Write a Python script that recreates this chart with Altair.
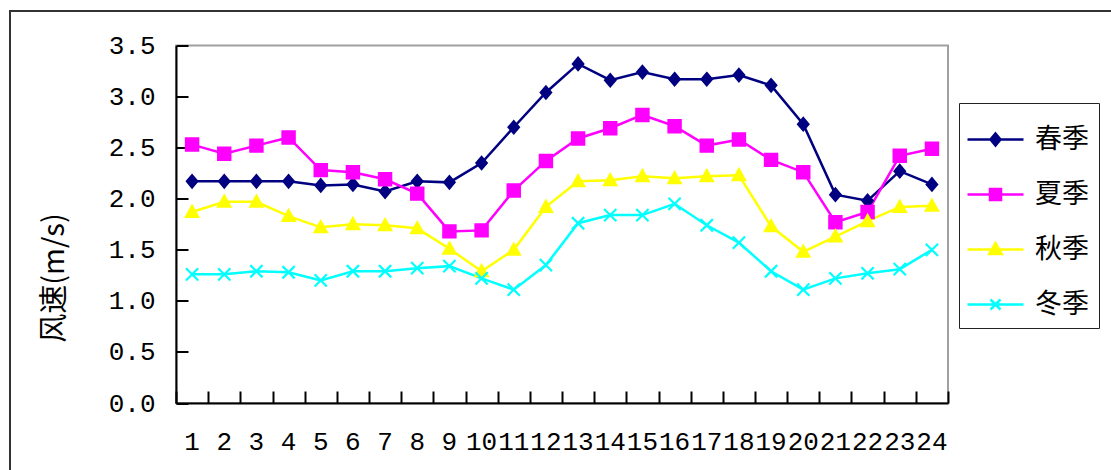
import altair as alt
import pandas as pd

# Hour of day (x categories)
hours = list(range(1, 25))
seasons = ["春季", "夏季", "秋季", "冬季"]

# Mean wind speed (m/s) for each hour, by season
spring = [2.17, 2.17, 2.17, 2.17, 2.13, 2.14, 2.07, 2.17, 2.16, 2.35, 2.70, 3.04,
          3.32, 3.16, 3.24, 3.17, 3.17, 3.21, 3.11, 2.73, 2.04, 1.98, 2.27, 2.14]
summer = [2.53, 2.44, 2.52, 2.60, 2.28, 2.26, 2.19, 2.05, 1.68, 1.69, 2.08, 2.37,
          2.59, 2.69, 2.82, 2.71, 2.52, 2.58, 2.38, 2.26, 1.77, 1.87, 2.42, 2.49]
autumn = [1.87, 1.97, 1.97, 1.83, 1.72, 1.75, 1.74, 1.71, 1.51, 1.29, 1.50, 1.92,
          2.17, 2.18, 2.22, 2.20, 2.22, 2.23, 1.73, 1.48, 1.63, 1.78, 1.92, 1.93]
winter = [1.26, 1.26, 1.29, 1.28, 1.20, 1.29, 1.29, 1.32, 1.34, 1.22, 1.11, 1.35,
          1.76, 1.84, 1.84, 1.95, 1.74, 1.57, 1.29, 1.11, 1.22, 1.27, 1.31, 1.50]

y_ticks = [0.0, 0.5, 1.0, 1.5, 2.0, 2.5, 3.0, 3.5]

series = dict(zip(seasons, [spring, summer, autumn, winter]))
df = pd.DataFrame(
    [{"hour": h, "season": s, "speed": v}
     for s in seasons for h, v in zip(hours, series[s])]
)

colors = ["#000080", "#FF00FF", "#FFFF00", "#00FFFF"]

# Marker glyphs (unit-square SVG paths)
marker_shapes = [
    "M0,-1L0.85,0L0,1L-0.85,0Z",
    "M-1,-1L1,-1L1,1L-1,1Z",
    "M0,-1L1,0.8L-1,0.8Z",
    "M-1,-1L1,1M-1,1L1,-1",
]
# Legend glyphs: a short line segment with the marker in the middle
legend_shapes = [
    "M-1.12,0L1.12,0M0,-0.24L0.2,0L0,0.24L-0.2,0Z",
    "M-1.12,0L1.12,0M-0.22,-0.22L0.22,-0.22L0.22,0.22L-0.22,0.22Z",
    "M-1.12,0L1.12,0M0,-0.26L0.25,0.18L-0.25,0.18Z",
    "M-1.12,0L1.12,0M-0.2,-0.2L0.2,0.2M-0.2,0.2L0.2,-0.2",
]

tick_font = "Liberation Mono"
cjk_font = "Noto Sans CJK SC"

x_scale = alt.Scale(type="band", paddingInner=0, paddingOuter=0)
y_scale = alt.Scale(domain=[0, 3.5], nice=False, zero=True)


def season_scale():
    return alt.Scale(domain=seasons, range=colors)


base = alt.Chart(df)

# Lines with the labelled axes
lines = base.mark_line(strokeWidth=2.5).encode(
    x=alt.X("hour:O", scale=x_scale, bandPosition=0.5,
            axis=alt.Axis(orient="bottom", title=None, labelFont=tick_font,
                          labelFontSize=26, labelColor="black", labelAngle=0,
                          labelPadding=25, labelOverlap=False, ticks=False,
                          domainColor="black", domainWidth=2, grid=False)),
    y=alt.Y("speed:Q", scale=y_scale,
            axis=alt.Axis(orient="left", values=y_ticks, format=".1f",
                          title="风速(m/s)", titleFont=cjk_font, titleFontSize=29,
                          titleFontWeight="normal", titleColor="black",
                          titleAngle=270, titleAlign="center", titleBaseline="middle",
                          titleX=-122, titleY=232,
                          labelFont=tick_font, labelFontSize=26, labelColor="black",
                          labelPadding=21, ticks=False,
                          domainColor="black", domainWidth=2, grid=False)),
    color=alt.Color("season:N", scale=season_scale(), legend=None),
    detail="season:N",
)

# Markers, plus inward-pointing tick marks
points = base.mark_point(filled=True, size=150, strokeWidth=2.2, opacity=1).encode(
    x=alt.X("hour:O", scale=x_scale, bandPosition=0.5,
            axis=alt.Axis(orient="bottom", title=None, labels=False, domain=False,
                          ticks=True, tickSize=12, tickColor="black", tickWidth=2,
                          offset=-12, tickBand="extent", grid=False)),
    y=alt.Y("speed:Q", scale=y_scale,
            axis=alt.Axis(orient="left", title=None, labels=False, domain=False,
                          values=y_ticks, ticks=True, tickSize=12, tickColor="black",
                          tickWidth=2, offset=-12, grid=False)),
    color=alt.Color("season:N", scale=season_scale(), legend=None),
    stroke=alt.Stroke("season:N", scale=season_scale(), legend=None),
    shape=alt.Shape("season:N", scale=alt.Scale(domain=seasons, range=marker_shapes),
                    legend=None),
)

# Legend carrier (line + marker glyphs)
legend_cfg = alt.Legend(
    title=None, orient="none", legendX=783, legendY=57.5,
    labelFont=cjk_font, labelFontSize=27, labelColor="black", labelOffset=13,
    symbolSize=2500, symbolStrokeWidth=2.5, symbolOpacity=1,
    rowPadding=15, padding=10, strokeColor="#222", fillColor="white",
)
legend_layer = base.mark_point(filled=True, opacity=0).encode(
    x=alt.X("hour:O", scale=x_scale, bandPosition=0.5, axis=None),
    y=alt.Y("speed:Q", scale=y_scale, axis=None),
    fill=alt.Fill("season:N", scale=season_scale(), legend=legend_cfg),
    stroke=alt.Stroke("season:N", scale=season_scale(), legend=legend_cfg),
    shape=alt.Shape("season:N", scale=alt.Scale(domain=seasons, range=legend_shapes),
                    legend=legend_cfg),
)

# Outer chart frame
frame = alt.Chart(alt.Data(values=[{"f": 1}])).mark_rect(
    fill="transparent", stroke="#333", strokeWidth=2
).encode(
    x=alt.value(-166), x2=alt.value(960), y=alt.value(-34.5), y2=alt.value(450)
)

chart = (
    alt.layer(frame, lines, points, legend_layer)
    .resolve_scale(shape="independent", stroke="independent", fill="independent")
    .resolve_axis(x="independent", y="independent")
    .properties(
        width=772, height=357.5,
        autosize=alt.AutoSizeParams(type="none"),
        padding={"left": 176, "top": 45.5, "right": 163, "bottom": 67},
        background="white",
    )
    .configure_view(stroke="#a0a0a0", strokeWidth=2)
)

chart.save("out.html", embed_options={"renderer": "svg", "actions": False})
